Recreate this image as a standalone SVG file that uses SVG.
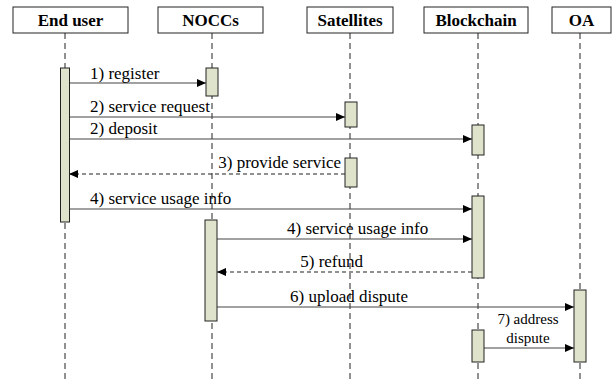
<svg xmlns="http://www.w3.org/2000/svg" width="612" height="379" viewBox="0 0 612 379">
<style>
.box{fill:#fff;stroke:#222;stroke-width:1}
.hd{font-family:"Liberation Serif","DejaVu Serif","Noto Serif",serif;font-weight:bold;font-size:17px;text-anchor:middle;fill:#000}
.life{stroke:#222;stroke-width:1;stroke-dasharray:6,4;fill:none}
.bar{fill:#dfe3cc;stroke:#222;stroke-width:1}
.msg{stroke:#444;stroke-width:1.2;fill:none}
.ret{stroke:#222;stroke-width:1.2;fill:none;stroke-dasharray:4,3}
.lbl{font-family:"Liberation Serif","DejaVu Serif","Noto Serif",serif;font-size:17px;fill:#000}
.sm{font-size:15px;text-anchor:middle}
</style>
<defs>
<marker id="ah" markerWidth="10" markerHeight="8" refX="9" refY="4" orient="auto" markerUnits="userSpaceOnUse">
<path d="M0,0 L9,4 L0,8 Z" fill="#000"/>
</marker>
</defs>
<rect width="612" height="379" fill="#fff"/>
<g id="lifelines">
<line class="life" x1="65" y1="33" x2="65" y2="379"/>
<line class="life" x1="212" y1="33" x2="212" y2="379"/>
<line class="life" x1="350" y1="33" x2="350" y2="379"/>
<line class="life" x1="478" y1="33" x2="478" y2="379"/>
<line class="life" x1="580" y1="33" x2="580" y2="379"/>
</g>
<g id="enduser">
<rect class="box" x="13" y="7" width="115" height="26"/>
<text class="hd" x="70.5" y="26">End user</text>
</g>
<g id="noccs">
<rect class="box" x="158" y="7" width="105" height="26"/>
<text class="hd" x="210.5" y="26">NOCCs</text>
</g>
<g id="satellites">
<rect class="box" x="307" y="7" width="86" height="26"/>
<text class="hd" x="350" y="26">Satellites</text>
</g>
<g id="blockchain">
<rect class="box" x="424" y="7" width="104" height="26"/>
<text class="hd" x="476" y="26">Blockchain</text>
</g>
<g id="oa">
<rect class="box" x="552" y="7" width="59" height="26"/>
<text class="hd" x="581.5" y="26">OA</text>
</g>
<g id="connectors">
<line class="msg" x1="69" y1="83" x2="206" y2="83" marker-end="url(#ah)"/>
<text class="lbl" x="90" y="79">1) register</text>
<line class="msg" x1="69" y1="117" x2="345" y2="117" marker-end="url(#ah)"/>
<text class="lbl" x="90" y="112">2) service request</text>
<line class="msg" x1="69" y1="139" x2="472" y2="139" marker-end="url(#ah)"/>
<text class="lbl" x="90" y="134">2) deposit</text>
<line class="ret" x1="345" y1="174" x2="69" y2="174" marker-end="url(#ah)"/>
<text class="lbl" x="341" y="168" text-anchor="end">3) provide service</text>
<line class="msg" x1="69" y1="209" x2="472" y2="209" marker-end="url(#ah)"/>
<text class="lbl" x="90" y="204">4) service usage info</text>
<line class="msg" x1="217" y1="239" x2="472" y2="239" marker-end="url(#ah)"/>
<text class="lbl" x="287" y="234">4) service usage info</text>
<line class="ret" x1="472" y1="272" x2="217" y2="272" marker-end="url(#ah)"/>
<text class="lbl" x="363" y="267" text-anchor="end">5) refund</text>
<line class="msg" x1="217" y1="307" x2="574" y2="307" marker-end="url(#ah)"/>
<text class="lbl" x="290" y="302">6) upload dispute</text>
<line class="msg" x1="484" y1="348" x2="574" y2="348" marker-end="url(#ah)"/>
<text class="lbl sm" x="528" y="324">7) address</text>
<text class="lbl sm" x="528" y="343">dispute</text>
</g>
<g id="activations">
<rect class="bar" x="60.5" y="68" width="9" height="154"/>
<rect class="bar" x="206" y="68" width="12" height="28"/>
<rect class="bar" x="345" y="102" width="12" height="25"/>
<rect class="bar" x="472" y="125" width="12" height="30"/>
<rect class="bar" x="345" y="158" width="12" height="29"/>
<rect class="bar" x="472" y="196" width="12" height="82"/>
<rect class="bar" x="205" y="220" width="12" height="101"/>
<rect class="bar" x="574" y="290" width="12" height="72"/>
<rect class="bar" x="472" y="330" width="12" height="32"/>
</g>
</svg>
